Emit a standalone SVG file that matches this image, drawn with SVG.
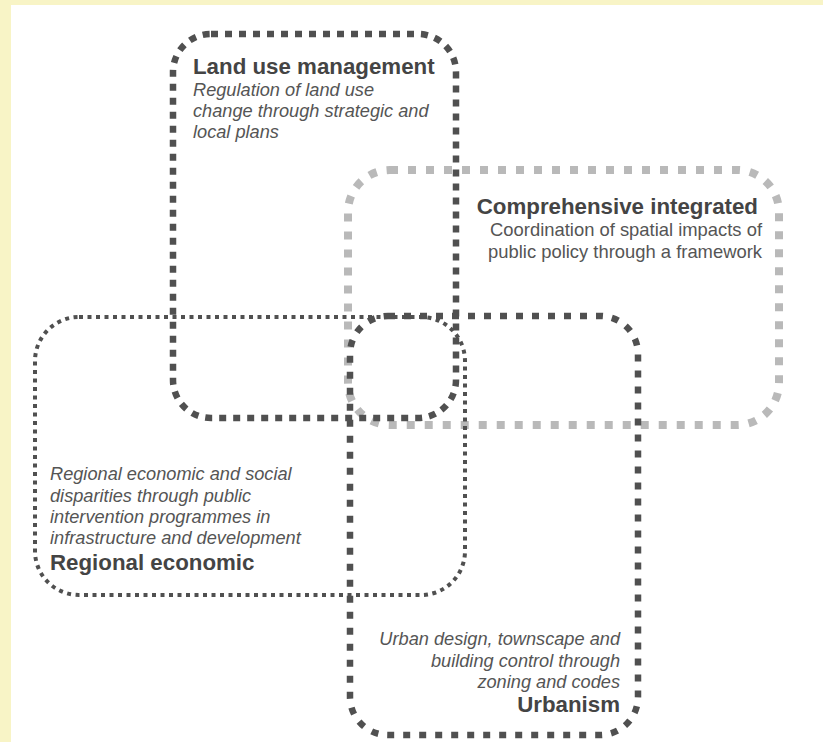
<svg xmlns="http://www.w3.org/2000/svg" width="823" height="742" viewBox="0 0 823 742">
<style>
.box{fill:none;}
.dark{stroke:#505050;}
.thick{stroke-width:6.5;stroke-dasharray:7 7;}
.urb{stroke-width:6.5;stroke-dasharray:7 9;}
.thin{stroke-width:4;stroke-dasharray:4 4.5;}
.light{stroke:#b9b9b9;stroke-width:8;stroke-dasharray:8 10;}
.title{font-family:"Liberation Sans",Arial,sans-serif;font-weight:bold;font-size:22.3px;fill:#444;}
.desc{font-family:"Liberation Sans",Arial,sans-serif;font-style:italic;font-size:18.2px;fill:#555;}
.reg{font-family:"Liberation Sans",Arial,sans-serif;font-size:18.4px;fill:#555;}
</style>
<rect x="0" y="0" width="823" height="742" fill="#f8f4c6"/>
<rect x="11" y="5" width="812" height="737" fill="#ffffff"/>
<g id="comprehensive">
<rect class="box light" x="348" y="170" width="431" height="255" rx="42"/>
<text class="title" x="758" y="214" text-anchor="end">Comprehensive integrated</text>
<text class="reg" x="762" y="236" text-anchor="end">Coordination of spatial impacts of</text>
<text class="reg" x="762" y="258" text-anchor="end">public policy through a framework</text>
</g>
<g id="land-use">
<rect class="box dark thick" x="173" y="34" width="283" height="384" rx="38"/>
<text class="title" x="193" y="74">Land use management</text>
<text class="desc" x="193" y="96">Regulation of land use</text>
<text class="desc" x="193" y="117">change through strategic and</text>
<text class="desc" x="193" y="138">local plans</text>
</g>
<g id="regional">
<rect class="box dark thin" x="35" y="317" width="430" height="278" rx="44"/>
<text class="desc" x="50" y="480">Regional economic and social</text>
<text class="desc" x="50" y="502">disparities through public</text>
<text class="desc" x="50" y="523">intervention programmes in</text>
<text class="desc" x="50" y="544">infrastructure and development</text>
<text class="title" x="50" y="570">Regional economic</text>
</g>
<g id="urbanism">
<rect class="box dark urb" x="350" y="316" width="288" height="419" rx="38"/>
<text class="desc" x="620" y="645" text-anchor="end">Urban design, townscape and</text>
<text class="desc" x="620" y="667" text-anchor="end">building control through</text>
<text class="desc" x="620" y="688" text-anchor="end">zoning and codes</text>
<text class="title" x="620" y="712" text-anchor="end">Urbanism</text>
</g>
</svg>
